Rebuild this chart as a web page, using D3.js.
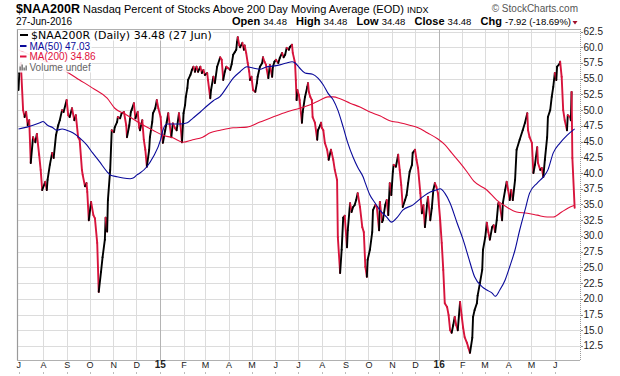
<!DOCTYPE html>
<html>
<head>
<meta charset="utf-8">
<script src="https://cdn.jsdelivr.net/npm/d3@7"></script>
<style>
  body { margin: 0; background: #fff; }
  svg { display: block; font-family: "Liberation Sans", Arial, sans-serif; }
</style>
</head>
<body>
<div id="chart"></div>
<script>
// $NAA200R daily closes
var naa200r = [
  ["2014-06-30",53.2],["2014-07-01",55.9],["2014-07-03",57.5],["2014-07-06",50.0],["2014-07-08",48.9],
  ["2014-07-10",49.7],["2014-07-12",47.6],["2014-07-14",48.4],["2014-07-16",41.6],["2014-07-19",45.7],
  ["2014-07-22",44.9],["2014-07-24",46.2],["2014-07-27",42.9],["2014-07-29",40.5],["2014-07-31",37.3],
  ["2014-08-04",38.6],["2014-08-06",37.3],["2014-08-07",38.9],["2014-08-10",41.3],["2014-08-13",43.2],
  ["2014-08-15",42.4],["2014-08-18",46.0],["2014-08-21",47.6],["2014-08-23",48.4],["2014-08-26",50.0],
  ["2014-08-28",49.7],["2014-09-01",51.6],["2014-09-03",49.2],["2014-09-05",48.9],["2014-09-08",50.3],
  ["2014-09-11",48.4],["2014-09-13",49.2],["2014-09-16",45.7],["2014-09-18",45.3],["2014-09-21",40.5],
  ["2014-09-22",39.7],["2014-09-25",37.9],["2014-09-27",38.4],["2014-09-28",37.0],["2014-09-30",32.5],
  ["2014-10-03",35.4],["2014-10-06",33.3],["2014-10-08",32.8],["2014-10-11",28.9],["2014-10-13",21.1],
  ["2014-10-16",24.3],["2014-10-18",26.6],["2014-10-21",29.4],["2014-10-22",32.9],["2014-10-24",30.7],
  ["2014-10-25",35.7],["2014-10-28",40.5],["2014-10-30",46.8],["2014-11-02",46.5],["2014-11-03",47.3],
  ["2014-11-06",48.1],["2014-11-07",48.9],["2014-11-10",48.7],["2014-11-12",49.5],["2014-11-15",49.7],
  ["2014-11-18",47.6],["2014-11-19",45.7],["2014-11-22",47.6],["2014-11-24",49.7],["2014-11-25",50.0],
  ["2014-11-28",51.1],["2014-11-30",48.7],["2014-12-03",49.7],["2014-12-05",47.2],["2014-12-06",46.8],
  ["2014-12-09",48.4],["2014-12-11",45.3],["2014-12-13",43.7],["2014-12-15",41.0],["2014-12-18",43.7],
  ["2014-12-19",45.7],["2014-12-22",48.1],["2014-12-23",49.5],["2014-12-26",50.3],["2014-12-28",51.6],
  ["2014-12-30",50.3],["2015-01-02",48.9],["2015-01-03",47.2],["2015-01-05",44.8],["2015-01-08",46.8],
  ["2015-01-10",48.1],["2015-01-12",49.5],["2015-01-14",47.6],["2015-01-16",45.7],["2015-01-18",47.9],
  ["2015-01-21",47.1],["2015-01-23",46.8],["2015-01-26",49.5],["2015-01-28",47.6],["2015-01-30",44.9],
  ["2015-02-01",49.5],["2015-02-03",50.8],["2015-02-04",52.1],["2015-02-06",53.5],["2015-02-07",54.8],
  ["2015-02-10",55.6],["2015-02-12",56.4],["2015-02-14",56.9],["2015-02-16",56.1],["2015-02-18",56.9],
  ["2015-02-20",56.1],["2015-02-23",56.9],["2015-02-25",55.9],["2015-02-27",56.4],["2015-03-01",55.6],
  ["2015-03-04",55.9],["2015-03-05",54.8],["2015-03-08",51.9],["2015-03-09",53.2],["2015-03-12",55.3],
  ["2015-03-14",54.3],["2015-03-17",56.9],["2015-03-21",58.4],["2015-03-23",58.0],["2015-03-25",54.8],
  ["2015-03-27",56.1],["2015-03-29",56.9],["2015-03-31",56.7],["2015-04-03",56.4],["2015-04-05",57.3],
  ["2015-04-07",58.8],["2015-04-09",59.2],["2015-04-11",59.6],["2015-04-12",60.8],["2015-04-13",61.6],
  ["2015-04-15",60.3],["2015-04-16",60.0],["2015-04-19",60.7],["2015-04-21",59.6],["2015-04-22",60.3],
  ["2015-04-24",59.1],["2015-04-26",57.5],["2015-04-28",56.1],["2015-04-29",54.8],["2015-05-01",55.3],
  ["2015-05-03",53.2],["2015-05-06",52.9],["2015-05-08",54.3],["2015-05-09",55.3],["2015-05-12",56.9],
  ["2015-05-15",57.5],["2015-05-16",58.4],["2015-05-18",57.7],["2015-05-20",57.2],["2015-05-21",56.4],
  ["2015-05-23",55.1],["2015-05-25",57.2],["2015-05-28",55.3],["2015-05-29",56.9],["2015-05-31",57.7],
  ["2015-06-02",58.0],["2015-06-05",57.5],["2015-06-07",58.3],["2015-06-10",59.1],["2015-06-12",58.4],
  ["2015-06-14",58.8],["2015-06-16",59.9],["2015-06-19",59.6],["2015-06-20",60.0],["2015-06-23",60.4],
  ["2015-06-24",59.1],["2015-06-27",57.5],["2015-06-28",54.8],["2015-06-29",51.6],["2015-06-30",53.2],
  ["2015-07-02",52.4],["2015-07-03",51.6],["2015-07-06",48.0],["2015-07-07",49.7],["2015-07-10",52.1],
  ["2015-07-13",53.7],["2015-07-14",54.3],["2015-07-15",52.9],["2015-07-17",52.1],["2015-07-19",51.6],
  ["2015-07-20",48.9],["2015-07-23",48.0],["2015-07-26",45.3],["2015-07-27",46.8],["2015-07-30",47.6],
  ["2015-07-31",48.0],["2015-08-01",47.2],["2015-08-03",46.8],["2015-08-05",44.8],["2015-08-08",43.7],
  ["2015-08-10",42.1],["2015-08-13",43.7],["2015-08-14",43.2],["2015-08-16",42.1],["2015-08-18",40.5],
  ["2015-08-21",38.9],["2015-08-22",29.8],["2015-08-25",24.1],["2015-08-27",27.8],["2015-08-29",32.9],
  ["2015-08-31",33.2],["2015-09-03",28.2],["2015-09-04",30.9],["2015-09-07",35.2],["2015-09-09",33.8],
  ["2015-09-11",34.6],["2015-09-13",34.9],["2015-09-15",35.7],["2015-09-17",36.8],["2015-09-20",34.6],
  ["2015-09-23",31.4],["2015-09-25",30.6],["2015-09-27",25.1],["2015-09-29",23.5],["2015-09-30",26.2],
  ["2015-10-03",27.8],["2015-10-06",30.6],["2015-10-07",34.1],["2015-10-10",34.9],["2015-10-12",34.6],
  ["2015-10-15",30.9],["2015-10-16",35.4],["2015-10-19",32.2],["2015-10-20",32.5],["2015-10-23",34.9],
  ["2015-10-25",35.7],["2015-10-27",33.3],["2015-10-29",38.4],["2015-10-31",36.5],["2015-11-02",40.2],
  ["2015-11-03",41.3],["2015-11-06",41.0],["2015-11-09",42.9],["2015-11-11",40.5],["2015-11-13",38.1],
  ["2015-11-15",34.6],["2015-11-18",35.7],["2015-11-20",36.5],["2015-11-22",38.4],["2015-11-24",40.2],
  ["2015-11-27",41.3],["2015-11-28",43.2],["2015-12-01",43.7],["2015-12-03",42.1],["2015-12-05",40.8],
  ["2015-12-08",36.8],["2015-12-10",33.6],["2015-12-12",34.9],["2015-12-14",31.4],["2015-12-17",35.2],
  ["2015-12-18",36.2],["2015-12-21",32.5],["2015-12-23",34.4],["2015-12-25",37.3],["2015-12-27",38.4],
  ["2015-12-29",37.8],["2015-12-31",36.8],["2016-01-03",32.5],["2016-01-05",28.9],["2016-01-07",24.6],
  ["2016-01-09",19.3],["2016-01-12",18.7],["2016-01-14",17.4],["2016-01-16",15.0],["2016-01-18",14.6],
  ["2016-01-20",15.8],["2016-01-22",17.1],["2016-01-24",15.8],["2016-01-26",15.0],["2016-01-29",19.5],
  ["2016-01-31",17.4],["2016-02-02",15.4],["2016-02-04",13.9],["2016-02-07",13.0],["2016-02-09",12.2],
  ["2016-02-11",11.4],["2016-02-14",13.8],["2016-02-15",17.1],["2016-02-17",18.2],["2016-02-20",19.3],
  ["2016-02-21",20.5],["2016-02-24",22.5],["2016-02-27",24.6],["2016-02-28",27.8],["2016-03-02",29.8],
  ["2016-03-04",32.1],["2016-03-06",30.6],["2016-03-08",29.4],["2016-03-11",31.4],["2016-03-13",31.7],
  ["2016-03-15",30.6],["2016-03-17",32.5],["2016-03-19",35.2],["2016-03-21",34.9],["2016-03-24",32.5],
  ["2016-03-25",35.2],["2016-03-28",37.3],["2016-03-30",38.6],["2016-04-01",37.3],["2016-04-03",35.7],
  ["2016-04-05",37.3],["2016-04-07",35.7],["2016-04-10",38.9],["2016-04-12",43.7],["2016-04-16",45.3],
  ["2016-04-20",46.8],["2016-04-23",48.0],["2016-04-26",49.5],["2016-04-27",46.8],["2016-04-29",45.7],
  ["2016-05-02",44.8],["2016-05-04",40.0],["2016-05-06",41.3],["2016-05-09",44.1],["2016-05-10",41.6],
  ["2016-05-13",40.5],["2016-05-15",40.8],["2016-05-17",39.4],["2016-05-19",42.1],["2016-05-22",45.7],
  ["2016-05-23",48.9],["2016-05-26",50.0],["2016-05-28",52.1],["2016-05-30",53.7],["2016-06-01",55.9],
  ["2016-06-03",54.8],["2016-06-04",56.9],["2016-06-07",57.3],["2016-06-08",57.7],["2016-06-10",55.3],
  ["2016-06-12",50.0],["2016-06-14",48.4],["2016-06-17",46.8],["2016-06-18",49.2],["2016-06-21",48.9],
  ["2016-06-22",48.4],["2016-06-23",52.9],["2016-06-24",42.4],["2016-06-27",34.48]
];

// 50 day moving average
var ma50 = [
  ["2014-06-30",47.0],["2014-07-11",47.3],["2014-07-19",47.6],["2014-07-28",48.0],["2014-08-01",48.2],
  ["2014-08-07",47.6],["2014-08-14",47.2],["2014-08-19",46.8],["2014-08-26",47.0],["2014-09-01",46.8],
  ["2014-09-09",46.4],["2014-09-18",45.6],["2014-09-27",44.5],["2014-10-05",43.2],["2014-10-14",41.8],
  ["2014-10-24",40.2],["2014-10-28",39.7],["2014-11-06",39.4],["2014-11-14",39.2],["2014-11-23",39.1],
  ["2014-11-27",39.2],["2014-12-02",39.7],["2014-12-06",40.0],["2014-12-15",41.0],["2014-12-23",42.5],
  ["2015-01-02",45.3],["2015-01-05",46.8],["2015-01-10",47.8],["2015-01-18",47.8],["2015-01-27",47.8],
  ["2015-02-06",48.0],["2015-02-13",48.7],["2015-02-23",49.7],["2015-03-04",50.7],["2015-03-12",51.5],
  ["2015-03-21",52.2],["2015-03-30",53.7],["2015-04-07",55.1],["2015-04-16",56.1],["2015-04-25",56.9],
  ["2015-05-03",56.7],["2015-05-12",56.5],["2015-05-21",56.9],["2015-05-29",57.0],["2015-06-07",57.2],
  ["2015-06-16",57.5],["2015-06-23",57.7],["2015-06-27",57.5],["2015-07-03",56.7],["2015-07-10",55.9],
  ["2015-07-20",55.7],["2015-07-27",55.1],["2015-08-03",54.0],["2015-08-09",52.7],["2015-08-16",51.6],
  ["2015-08-22",50.0],["2015-08-29",47.3],["2015-09-04",44.8],["2015-09-11",42.5],["2015-09-17",40.9],
  ["2015-09-24",39.4],["2015-09-27",38.4],["2015-10-03",36.5],["2015-10-10",35.2],["2015-10-16",34.1],
  ["2015-10-25",33.0],["2015-10-31",32.2],["2015-11-08",33.0],["2015-11-15",34.1],["2015-11-28",34.9],
  ["2015-12-11",36.2],["2015-12-21",37.0],["2015-12-29",37.3],["2016-01-03",37.5],["2016-01-09",36.8],
  ["2016-01-16",35.2],["2016-01-25",32.1],["2016-02-02",29.4],["2016-02-09",26.6],["2016-02-17",23.5],
  ["2016-02-27",21.9],["2016-03-04",21.4],["2016-03-11",20.9],["2016-03-15",20.4],["2016-03-21",21.4],
  ["2016-03-28",23.0],["2016-04-03",25.1],["2016-04-10",27.8],["2016-04-16",30.9],["2016-04-23",34.1],
  ["2016-04-29",36.8],["2016-05-09",38.4],["2016-05-17",39.4],["2016-05-23",40.5],["2016-05-30",43.2],
  ["2016-06-08",44.8],["2016-06-17",46.0],["2016-06-27",47.03]
];

// 200 day moving average
var ma200 = [
  ["2014-06-30",59.6],["2014-07-29",58.0],["2014-08-18",57.0],["2014-09-01",56.1],["2014-09-18",54.8],
  ["2014-10-05",53.5],["2014-10-24",51.9],["2014-11-03",50.3],["2014-11-19",49.2],["2014-12-06",47.9],
  ["2014-12-23",46.8],["2015-01-05",46.0],["2015-01-18",45.6],["2015-01-31",44.9],["2015-02-13",45.3],
  ["2015-02-26",45.7],["2015-03-08",46.4],["2015-03-21",46.8],["2015-04-07",47.2],["2015-04-25",47.3],
  ["2015-05-12",48.1],["2015-05-29",48.9],["2015-06-16",49.7],["2015-07-03",50.3],["2015-07-16",50.8],
  ["2015-07-30",51.6],["2015-08-09",52.1],["2015-08-16",52.1],["2015-08-25",51.8],["2015-09-07",51.1],
  ["2015-09-20",50.5],["2015-10-03",49.7],["2015-10-16",49.1],["2015-10-29",48.3],["2015-11-11",48.0],
  ["2015-11-24",47.6],["2015-12-05",47.2],["2015-12-17",46.4],["2015-12-31",45.4],["2016-01-09",44.5],
  ["2016-01-18",43.2],["2016-01-29",41.6],["2016-02-07",40.2],["2016-02-16",38.7],["2016-03-04",37.3],
  ["2016-03-17",35.7],["2016-03-30",34.6],["2016-04-12",33.8],["2016-04-26",33.6],["2016-05-09",33.3],
  ["2016-05-22",33.0],["2016-05-30",33.0],["2016-06-10",33.8],["2016-06-18",34.4],["2016-06-27",34.86]
];

var yTicks = [12.5, 15, 17.5, 20, 22.5, 25, 27.5, 30, 32.5, 35, 37.5, 40, 42.5, 45, 47.5, 50, 52.5, 55, 57.5, 60, 62.5];
var monthLabels = ["J","A","S","O","N","D","15","F","M","A","M","J","J","A","S","O","N","D","16","F","M","A","M","J"];
var headerStats = [["Open","34.48"],["High","34.48"],["Low","34.48"],["Close","34.48"],["Chg","-7.92 (-18.69%)"]];

var upColor = "#000", downColor = "#d7143c", ma50Color = "#0a0a9a", ma200Color = "#e0103c";

var W = 620, H = 376;
var plot = {left: 17, top: 29, right: 580, bottom: 360};

var parse = d3.timeParse("%Y-%m-%d");
function rows(arr) { return arr.map(function(d) { return {date: parse(d[0]), value: d[1]}; }); }
var price = rows(naa200r), m50 = rows(ma50), m200 = rows(ma200);

var svg = d3.select("#chart").append("svg")
    .attr("width", W)
    .attr("height", H);

var x = d3.scaleTime()
    .domain([parse("2014-06-28"), parse("2016-07-04")])
    .range([plot.left, plot.right]);

var y = d3.scaleLinear()
    .domain([10.27, 62.9])
    .range([plot.bottom, plot.top]);

// //////////
// GRID //
// //////////
var months = d3.timeMonth.range(new Date(2014, 6, 1), new Date(2016, 6, 1));

svg.append("g").selectAll("line")
    .data(yTicks)
    .enter().append("line")
    .attr("x1", plot.left).attr("x2", plot.right)
    .attr("y1", function(d) { return Math.round(y(d)) + 0.5; })
    .attr("y2", function(d) { return Math.round(y(d)) + 0.5; })
    .attr("stroke", "#dcdcdc");

svg.append("g").selectAll("line")
    .data(months.slice(1))
    .enter().append("line")
    .attr("x1", function(d) { return Math.round(x(d)) + 0.5; })
    .attr("x2", function(d) { return Math.round(x(d)) + 0.5; })
    .attr("y1", plot.top).attr("y2", plot.bottom)
    .attr("stroke", function(d) { return d.getMonth() === 0 ? "#b4b4b4" : "#dcdcdc"; });

// border
svg.append("line").attr("x1", plot.left + 0.5).attr("x2", plot.left + 0.5)
    .attr("y1", plot.top).attr("y2", plot.bottom + 0.5).attr("stroke", "#9a9a9a").attr("stroke-width", 1.2);
svg.append("line").attr("x1", plot.left).attr("x2", plot.right)
    .attr("y1", plot.top + 0.5).attr("y2", plot.top + 0.5).attr("stroke", "#b0b0b0");
svg.append("line").attr("x1", plot.left).attr("x2", plot.right)
    .attr("y1", plot.bottom + 0.5).attr("y2", plot.bottom + 0.5).attr("stroke", "#b0b0b0");
svg.append("line").attr("x1", plot.right + 0.5).attr("x2", plot.right + 0.5)
    .attr("y1", plot.top).attr("y2", plot.bottom + 1).attr("stroke", "#999").attr("stroke-dasharray", "1,1");

// //////////
// AXES //
// //////////
var yAxis = svg.append("g");
yAxis.selectAll("line").data(yTicks).enter().append("line")
    .attr("x1", plot.right + 1).attr("x2", plot.right + 3)
    .attr("y1", function(d) { return Math.round(y(d)) + 0.5; })
    .attr("y2", function(d) { return Math.round(y(d)) + 0.5; })
    .attr("stroke", "#888");
yAxis.selectAll("text").data(yTicks).enter().append("text")
    .attr("x", plot.right + 3.5)
    .attr("y", function(d) { return y(d) + 3.5; })
    .attr("font-size", "10px")
    .attr("fill", "#222")
    .text(function(d) { return d3.format(".1f")(d); });

var xAxis = svg.append("g");
xAxis.selectAll("text").data(months).enter().append("text")
    .attr("x", function(d, i) { return i === 0 ? x(d) - 0.5 : x(d) + 0.5; })
    .attr("y", 368)
    .attr("text-anchor", "middle")
    .attr("font-size", function(d, i) { return monthLabels[i].length > 1 ? "10px" : "9px"; })
    .attr("font-weight", function(d, i) { return monthLabels[i].length > 1 ? "bold" : "normal"; })
    .attr("fill", "#222")
    .text(function(d, i) { return monthLabels[i]; });
xAxis.selectAll("line").data(months).enter().append("line")
    .attr("x1", function(d) { return Math.round(x(d)) + 0.5; })
    .attr("x2", function(d) { return Math.round(x(d)) + 0.5; })
    .attr("y1", 372).attr("y2", 374)
    .attr("stroke", "#bbb");

// //////////
// LINES //
// //////////
svg.append("defs").append("clipPath").attr("id", "clip")
    .append("rect")
    .attr("x", plot.left + 1).attr("y", plot.top + 1)
    .attr("width", plot.right - plot.left - 1).attr("height", plot.bottom - plot.top - 1);

var lines = svg.append("g").attr("clip-path", "url(#clip)");

// price: black on up days, red on down days
lines.selectAll(".seg")
    .data(d3.pairs(price))
    .enter().append("line")
    .attr("class", "seg")
    .attr("x1", function(d) { return x(d[0].date); })
    .attr("y1", function(d) { return y(d[0].value); })
    .attr("x2", function(d) { return x(d[1].date); })
    .attr("y2", function(d) { return y(d[1].value); })
    .attr("stroke", function(d) { return d[1].value >= d[0].value ? upColor : downColor; })
    .attr("stroke-width", 1.9)
    .attr("stroke-linecap", "round");

var line = d3.line()
    .x(function(d) { return x(d.date); })
    .y(function(d) { return y(d.value); })
    .curve(d3.curveMonotoneX);

lines.append("path").datum(m200)
    .attr("d", line).attr("fill", "none")
    .attr("stroke", ma200Color).attr("stroke-width", 1.1);

lines.append("path").datum(m50)
    .attr("d", line).attr("fill", "none")
    .attr("stroke", ma50Color).attr("stroke-width", 1.1);

// //////////
// HEADER //
// //////////
svg.append("text").attr("x", 16).attr("y", 13)
    .attr("font-size", "12.5px").attr("font-weight", "bold")
    .text("$NAA200R");
svg.append("text").attr("x", 83).attr("y", 13)
    .attr("font-size", "11px")
    .text("Nasdaq Percent of Stocks Above 200 Day Moving Average (EOD)");
svg.append("text").attr("x", 407).attr("y", 13)
    .attr("font-size", "9px")
    .text("INDX");
svg.append("text").attr("x", 578).attr("y", 12)
    .attr("font-size", "10px").attr("text-anchor", "end").attr("fill", "#555")
    .text("\u00a9 StockCharts.com");
svg.append("text").attr("x", 16).attr("y", 25)
    .attr("font-size", "10px")
    .text("27-Jun-2016");

var stats = svg.append("text").attr("x", 571).attr("y", 25).attr("text-anchor", "end");
headerStats.forEach(function(s, i) {
    stats.append("tspan").attr("font-size", "11px").attr("font-weight", "bold")
        .text((i > 0 ? "\u00a0\u00a0\u00a0" : "") + s[0] + " ");
    stats.append("tspan").attr("font-size", "9.5px").text(s[1]);
});
svg.append("path")
    .attr("d", "M572.5,21 L577.5,21 L575,24.5 Z")
    .attr("fill", "#a0102c");

// //////////
// LEGEND //
// //////////
var legend = svg.append("g");
var legendRows = [
    {label: "$NAA200R (Daily) 34.48 (27 Jun)", color: "#000", text: "#000", font: "'DejaVu Sans', sans-serif", size: "11px", y: 38.5, tx: 31},
    {label: "MA(50) 47.03", color: ma50Color, text: ma50Color, font: "'Liberation Sans', Arial, sans-serif", size: "10px", y: 49.5, tx: 29.5},
    {label: "MA(200) 34.86", color: ma200Color, text: ma200Color, font: "'Liberation Sans', Arial, sans-serif", size: "10px", y: 60, tx: 29.5},
    {label: "Volume undef", color: null, text: "#666", font: "'Liberation Sans', Arial, sans-serif", size: "10px", y: 70.5, tx: 29.5}
];
var bgs = legend.append("g");
legendRows.forEach(function(r) {
    var t = legend.append("text")
        .attr("x", r.tx).attr("y", r.y)
        .attr("font-family", r.font).attr("font-size", r.size)
        .attr("fill", r.text)
        .text(r.label);
    var bb = t.node().getBBox();
    bgs.append("rect")
        .attr("x", 18).attr("y", r.y - 8.5)
        .attr("width", bb.x + bb.width - 18 + 1).attr("height", 10.5)
        .attr("fill", "#fff").attr("opacity", 0.9);
    if (r.color) {
        legend.append("line")
            .attr("x1", 20).attr("x2", r.tx - 3)
            .attr("y1", r.y - 3.5).attr("y2", r.y - 3.5)
            .attr("stroke", r.color).attr("stroke-width", 2);
    } else {
        [[19.5, 4], [21.5, 6], [23.5, 3], [25.5, 5]].forEach(function(b) {
            legend.append("rect")
                .attr("x", b[0]).attr("y", r.y - b[1])
                .attr("width", 1.3).attr("height", b[1])
                .attr("fill", "#666");
        });
    }
});
</script>
</body>
</html>
